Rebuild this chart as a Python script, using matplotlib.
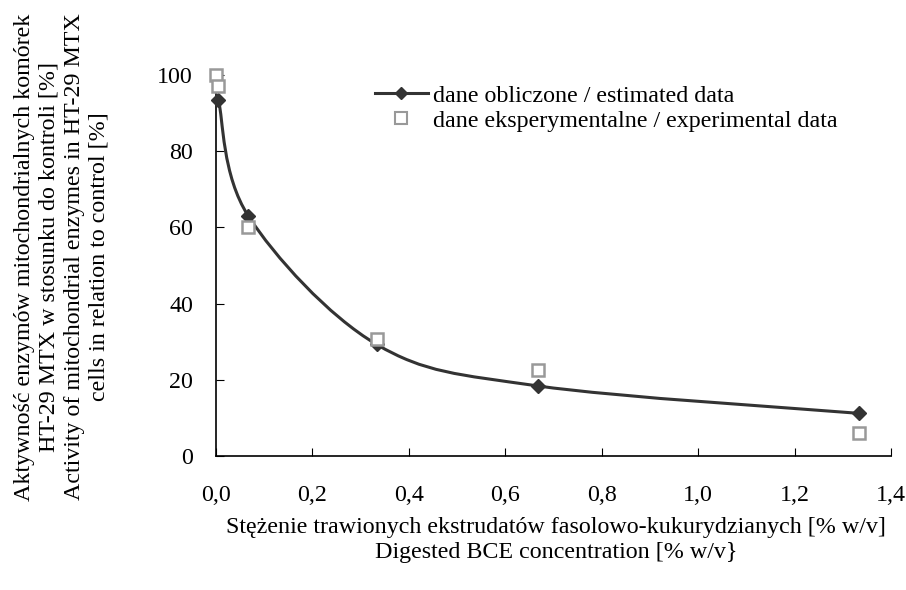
import numpy as np
import matplotlib.pyplot as plt
from matplotlib.path import Path
from matplotlib.patches import PathPatch

# concentration [% w/v] and activity [%]
conc_est = [0.005, 0.067, 0.333, 0.667, 1.333]
act_est = [93.5, 63.0, 29.3, 18.4, 11.2]
conc_exp = [0.0, 0.005, 0.067, 0.333, 0.667, 1.333]
act_exp = [100.0, 97.0, 60.2, 30.6, 22.5, 6.1]

x_ticks = [0.0, 0.2, 0.4, 0.6, 0.8, 1.0, 1.2, 1.4]
x_ticklabels = ['0,0', '0,2', '0,4', '0,6', '0,8', '1,0', '1,2', '1,4']
y_ticks = [0, 20, 40, 60, 80, 100]

plt.rcParams['font.family'] = ['Liberation Serif', 'DejaVu Serif']
fs = 17.3
line_col = '#333333'
sq_col = '#999999'


def smooth_path(ax, xs, ys, t=1.0 / 6):
    # excel-like smoothed line: cubic bezier through points, computed in display space
    pts = ax.transData.transform(np.column_stack([xs, ys]))
    n = len(pts)
    verts = [pts[0]]
    codes = [Path.MOVETO]
    for i in range(n - 1):
        p0 = pts[i - 1] if i > 0 else pts[i]
        p1 = pts[i]
        p2 = pts[i + 1]
        p3 = pts[i + 2] if i + 2 < n else pts[i + 1]
        c1 = p1 + (p2 - p0) * t
        c2 = p2 - (p3 - p1) * t
        verts += [c1, c2, p2]
        codes += [Path.CURVE4] * 3
    verts = ax.transData.inverted().transform(np.array(verts))
    return Path(verts, codes)


fig = plt.figure(figsize=(9.06, 5.90), dpi=100)
ax = fig.add_axes([216 / 906, 1 - 456 / 590, 675 / 906, 381 / 590])
ax.set_xlim(0, 1.4)
ax.set_ylim(0, 100)

patch = PathPatch(smooth_path(ax, conc_est, act_est), facecolor='none',
                  edgecolor=line_col, lw=2.2, zorder=3)
ax.add_patch(patch)
ax.plot(conc_est, act_est, ls='none', marker='D', ms=7, color=line_col,
        zorder=4, clip_on=False)
ax.plot(conc_exp, act_exp, ls='none', marker='s', ms=9, mfc='white',
        mec=sq_col, mew=1.8, zorder=5, clip_on=False)

# legend handles
h1, = ax.plot([], [], color=line_col, lw=2.2, marker='D', ms=6)
h2, = ax.plot([], [], ls='none', marker='s', ms=8, mfc='white', mec=sq_col, mew=1.5)
ax.legend([h1, h2], ['dane obliczone / estimated data',
                     'dane eksperymentalne / experimental data'],
          loc='upper left', bbox_to_anchor=(375 / 906, 1 - 85 / 590),
          bbox_transform=fig.transFigure, frameon=False, fontsize=fs,
          handlelength=2.2, handletextpad=0.2, labelspacing=0.12,
          borderpad=0, borderaxespad=0)

ax.spines['top'].set_visible(False)
ax.spines['right'].set_visible(False)
ax.spines['left'].set_linewidth(1.2)
ax.spines['bottom'].set_linewidth(1.2)
ax.set_xticks(x_ticks)
ax.set_xticklabels(x_ticklabels)
ax.set_yticks(y_ticks)
ax.tick_params(axis='x', direction='in', length=6, pad=21, labelsize=fs)
ax.tick_params(axis='y', direction='in', length=6, pad=16.5, labelsize=fs)

fig.text(556 / 906, 1 - 540 / 590,
         'Stężenie trawionych ekstrudatów fasolowo-kukurydzianych [% w/v]\n'
         'Digested BCE concentration [% w/v}',
         ha='center', va='center', fontsize=fs, linespacing=1.3)
fig.text(62 / 906, 1 - 257 / 590,
         'Aktywność enzymów mitochondrialnych komórek\n'
         'HT-29 MTX w stosunku do kontroli [%]\n'
         'Activity of mitochondrial enzymes in HT-29 MTX\n'
         'cells in relation to control [%]',
         ha='center', va='center', rotation=90, fontsize=fs, linespacing=1.25)

fig.savefig('out.png', dpi=100)
